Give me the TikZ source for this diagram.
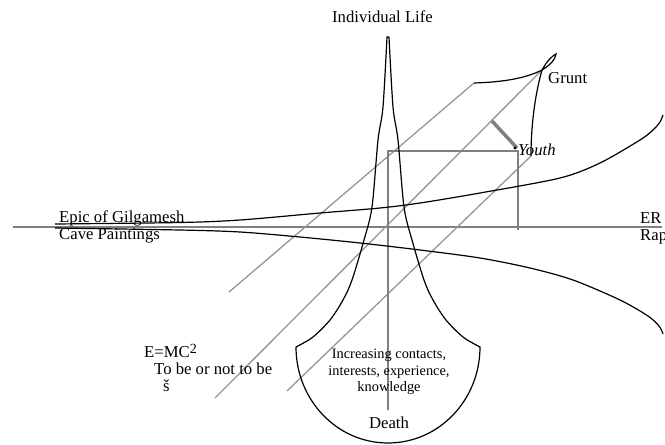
\documentclass[tikz,border=0pt]{standalone}
\usepackage{fontspec}
\setmainfont{Liberation Serif}
\definecolor{axisgray}{RGB}{128,128,128}
\definecolor{diaggray}{RGB}{150,150,150}
\begin{document}
\begin{tikzpicture}[x=1pt,y=-1pt,
  blk/.style={black,line width=1.2pt},
  framegray/.style={axisgray,line width=2pt},
  diag/.style={diaggray,line width=1.3pt},
  barseg/.style={axisgray,line width=3.5pt},
  lbl/.style={inner sep=0pt,font=\fontsize{16.7}{20}\selectfont},
  smalllbl/.style={inner sep=0pt,font=\fontsize{14.4}{17}\selectfont}]
\useasboundingbox (0,0) rectangle (665,445);
% key points
\coordinate (axL) at (13,227);
\coordinate (axR) at (662,227);
\coordinate (grunt) at (542,70);
\coordinate (youth) at (518,151);
\coordinate (youthlow) at (518,230);
\coordinate (cornerL) at (388,151);
\coordinate (vbottom) at (388,410);
\coordinate (l1a) at (229,292);
\coordinate (l1b) at (474,83);
\coordinate (l2b) at (215,398);
\coordinate (l3a) at (531,156);
\coordinate (l3b) at (287,391);
\coordinate (bara) at (492,121);
\coordinate (barb) at (517,148);
% axis
\draw[framegray] (axL) -- (axR);
% diagonals
\draw[diag] (l1a) -- (l1b);
\draw[diag] (grunt) -- (l2b);
\draw[diag] (l3a) -- (l3b);
% gray frame
\draw[framegray] (vbottom) -- (cornerL) -- (youth) -- (youthlow);
\draw[barseg] (bara) -- (barb);
\fill (515,148) circle (1.6);
% horn curves
\draw[blk] plot[smooth] coordinates {(55,224) (180,222.5) (240,220) (320,213) (380,208) (420,203) (480,193) (560,178) (600,163) (640,140) (653,130) (660,122) (663,115)};
\draw[blk] plot[smooth] coordinates {(55,228) (180,230) (240,232) (300,237) (360,243) (420,250) (480,258) (530,268) (573,280) (620,300) (648,316) (659,326) (663,334)};
% spike and bowl
\draw[blk] plot[smooth] coordinates {(296,347) (313,337) (330,320) (343,300) (352,280) (364,240) (372,207) (378,140) (383,107) (387,37)}
  -- (389,37)
  plot[smooth] coordinates {(389,37) (393,107) (398,140) (404,207) (412,240) (424,280) (433,300) (446,320) (463,337) (480,347)}
  .. controls (480,400) and (439,443) .. (388,443)
  .. controls (337,443) and (296,400) .. (296,347);
% Grunt curves
\draw[blk] (l1b) .. controls (505,82) and (526,78) .. (grunt);
\draw[blk] (grunt) .. controls (547,61) and (552,56) .. (556,54)
  .. controls (556,59) and (549,66) .. (grunt);
\draw[blk] (grunt) .. controls (535,95) and (531,125) .. (l3a);
% labels
\node[lbl,anchor=base] (indiv) at (382.5,22) {Individual Life};
\node[lbl,anchor=base west] (gruntlbl) at (548,83) {Grunt};
\node[lbl,anchor=base west] (youthlbl) at (518,155) {\itshape Youth};
\node[lbl,anchor=base west] (er) at (640,223) {ER};
\node[lbl,anchor=base west] (rap) at (640,240) {Rap};
\node[lbl,anchor=base west] (epic) at (59,222.5) {Epic of Gilgamesh};
\node[lbl,anchor=base west] (cave) at (59,239.5) {Cave Paintings};
\node[lbl,anchor=base west] (emc) at (144,357) {E=MC\raisebox{4pt}{\fontsize{14}{14}\selectfont 2}};
\node[lbl,anchor=base west] (tobe) at (154,374) {To be or not to be};
\node[lbl,anchor=base west] (scar) at (163,391) {š};
\node[smalllbl,anchor=base] (inc1) at (389,358) {Increasing contacts,};
\node[smalllbl,anchor=base] (inc2) at (389,375) {interests, experience,};
\node[smalllbl,anchor=base] (inc3) at (389,391.5) {knowledge};
\node[lbl,anchor=base] (death) at (389,428) {Death};
\end{tikzpicture}
\end{document}
